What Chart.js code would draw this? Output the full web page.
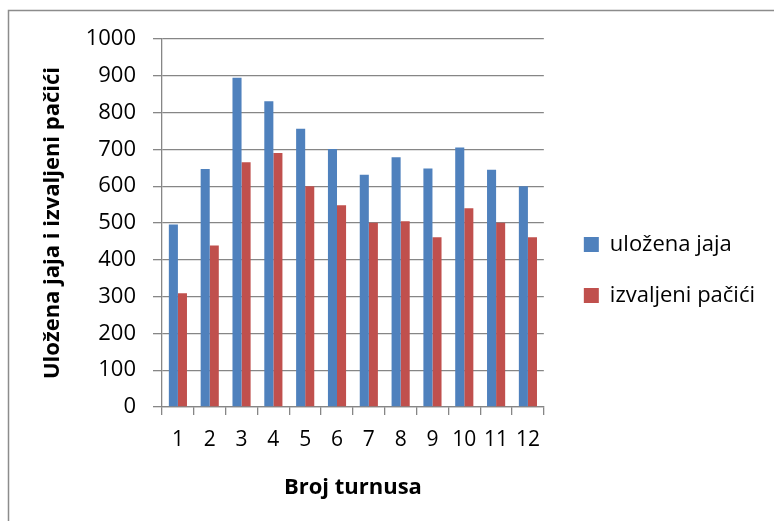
<!DOCTYPE html>
<html>
<head>
<meta charset="utf-8">
<script src="https://cdn.jsdelivr.net/npm/chart.js@4"></script>
<style>
  html, body { margin: 0; padding: 0; background: #fff; }
  #wrap { width: 774px; height: 521px; }
</style>
</head>
<body>
<div id="wrap"><canvas id="chart"></canvas></div>
<script>
const turnusi = ['1', '2', '3', '4', '5', '6', '7', '8', '9', '10', '11', '12'];
const ulozenaJaja = [496, 647, 895, 831, 756, 701, 631, 679, 648, 705, 645, 600];
const izvaljeniPacici = [309, 439, 665, 690, 600, 548, 501, 505, 461, 540, 501, 461];
const yTicks = [0, 100, 200, 300, 400, 500, 600, 700, 800, 900, 1000];

const FONT = "'Open Sans', 'Noto Sans', sans-serif";
const GRID = '#868686';

// outer frame like the one round the original chart
const framePlugin = {
    id: 'frame',
    beforeDraw(chart) {
        const c = chart.ctx;
        c.save();
        c.fillStyle = '#fff';
        c.fillRect(0, 0, chart.width, chart.height);
        c.strokeStyle = '#8c8c8c';
        c.lineWidth = 1.5;
        c.strokeRect(8.5, 10.5, chart.width + 20, chart.height + 20);
        c.restore();
    },
    // push the legend a bit away from the plot, as in the original
    afterLayout(chart) {
        if (chart.legend) {
            chart.legend.left += 11;
            chart.legend.right += 11;
        }
    }
};

const data = {
    labels: turnusi,
    datasets: [
        { label: 'uložena jaja', data: ulozenaJaja, backgroundColor: '#4F81BD' },
        { label: 'izvaljeni pačići', data: izvaljeniPacici, backgroundColor: '#C0504D' }
    ]
};

const config = {
    type: 'bar',
    data: data,
    plugins: [framePlugin],
    options: {
        responsive: true,
        maintainAspectRatio: false,
        animation: false,
        datasets: { bar: { categoryPercentage: 0.57, barPercentage: 1.0 } },
        layout: { padding: { left: 20, top: 39, right: 20, bottom: 20 } },
        plugins: {
            tooltip: { enabled: false },
            legend: {
                position: 'right',
                fullSize: true,
                maxWidth: 320,
                labels: {
                    boxWidth: 15,
                    boxHeight: 15,
                    padding: 29,
                    color: '#000',
                    font: { family: FONT, size: 22 }
                }
            }
        },
        scales: {
            x: {
                grid: { offset: true, drawOnChartArea: false, drawTicks: true, tickLength: 8, color: GRID, lineWidth: 1.3 },
                border: { color: GRID, width: 1.3 },
                ticks: { color: '#000', padding: 12, maxRotation: 0, autoSkip: false, font: { family: FONT, size: 21 } },
                title: { display: true, text: 'Broj turnusa', color: '#000', padding: { top: 10, bottom: 0 }, font: { family: FONT, size: 22, weight: 'bold' } },
                afterFit: (s) => { s.height = 521 - 20 - 407; }
            },
            y: {
                min: 0,
                max: 1000,
                afterBuildTicks: (s) => { s.ticks = yTicks.map(v => ({ value: v })); },
                grid: { drawTicks: true, tickLength: 9, color: GRID, lineWidth: 1.3 },
                border: { color: GRID, width: 1.3 },
                ticks: { color: '#000', padding: 17, font: { family: FONT, size: 22 }, callback: (v) => String(v) },
                title: { display: true, text: 'Uložena jaja i izvaljeni pačići', color: '#000', padding: { top: 20, bottom: 0 }, font: { family: FONT, size: 22, weight: 'bold' } },
                afterFit: (s) => { s.width = 162 - 20; }
            }
        }
    }
};

const ctx = document.getElementById('chart').getContext('2d');
const myChart = new Chart(ctx, config);
</script>
</body>
</html>
